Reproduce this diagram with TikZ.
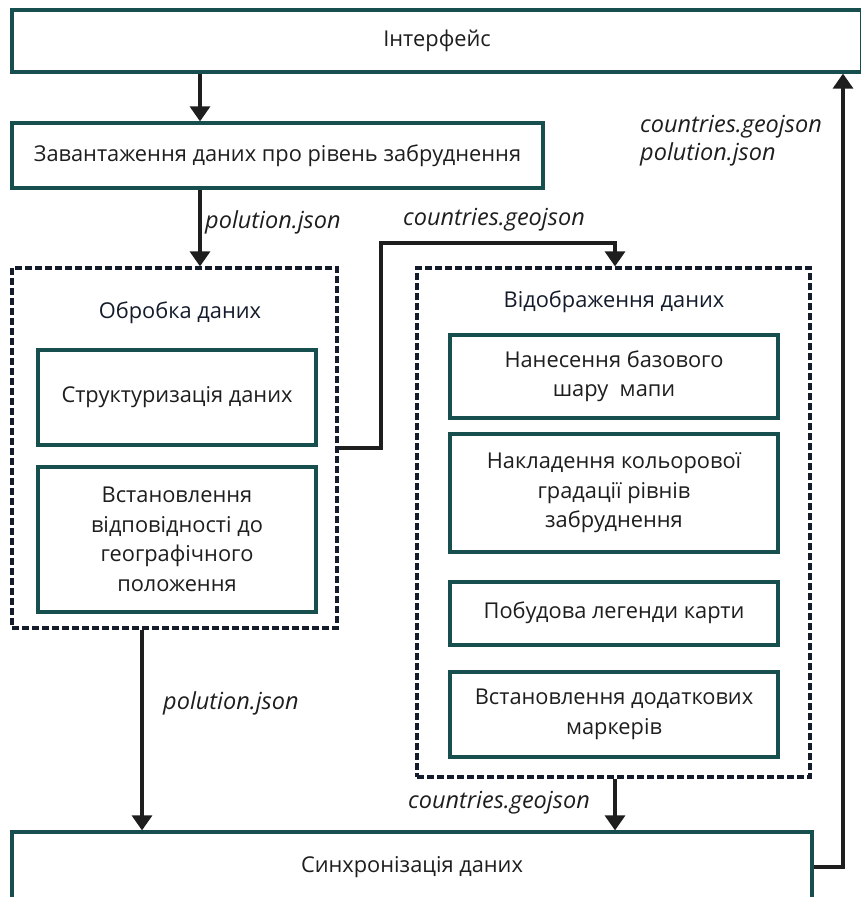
\documentclass[tikz,border=0pt]{standalone}
\usepackage{fontspec}
\setmainfont{Open Sans}
\usetikzlibrary{arrows.meta}
\definecolor{tealb}{HTML}{174F4F}
\definecolor{txt}{HTML}{1E1E1E}
\definecolor{dashc}{HTML}{141C2C}
\tikzset{
  box/.style={draw=tealb, line width=3.2pt, fill=white, text=txt, align=center, inner sep=0pt, font=\fontsize{21.8}{29.5}\selectfont},
  grp/.style={draw=dashc, line width=3.2pt, dash pattern=on 7pt off 3pt, inner sep=0pt},
  ttl/.style={text=dashc, font=\fontsize{21.8}{29.5}\selectfont},
  lbl/.style={text=txt, anchor=west, align=left, inner sep=0pt, font=\fontsize{23.5}{28}\selectfont\itshape},
  arr/.style={draw=txt, line width=3.2pt, -{Triangle[width=20pt,length=15pt]}},
}
\begin{document}
\begin{tikzpicture}[x=1pt,y=-1pt]
\useasboundingbox (0,0) rectangle (860,897);
\node[box, minimum width=850pt, minimum height=62pt] (iface) at (437,41) {Інтерфейс};
\node[box, minimum width=531pt, minimum height=65pt] (load) at (277.5,155.5) {Завантаження даних про рівень забруднення};
\node[grp, minimum width=325pt, minimum height=360pt] (d1) at (174.5,448) {};
\node[ttl] (t1) at (180,313) {Обробка даних};
\node[box, minimum width=278pt, minimum height=95pt] (s1) at (177,397.5) {Структуризація даних};
\node[box, minimum width=278pt, minimum height=145pt] (s2) at (177,539.5) {Встановлення\\відповідності до\\географічного\\положення};
\node[grp, minimum width=393pt, minimum height=509pt] (d2) at (613.5,522.5) {};
\node[ttl] (t2) at (614,302) {Відображення даних};
\node[box, minimum width=328pt, minimum height=83pt] (m1) at (614,376.5) {Нанесення базового\\шару\ \ мапи};
\node[box, minimum width=328pt, minimum height=118pt] (m2) at (614,493) {Накладення кольорової\\градації рівнів\\забруднення};
\node[box, minimum width=328pt, minimum height=63pt] (m3) at (614,613.5) {\raisebox{6pt}{Побудова легенди карти}};
\node[box, minimum width=328pt, minimum height=85pt] (m4) at (614,714.5) {Встановлення додаткових\\маркерів};
\node[box, minimum width=800pt, minimum height=70pt] (sync) at (412,867) {Синхронізація даних};

\draw[arr] (iface.south -| 200,0) -- (load.north -| 200,0);
\draw[arr] (load.south -| 200,0) -- (d1.north -| 200,0);
\draw[arr] (d1.east) -- (381,448) -- (381,243) -- (615,243) -- (d2.north -| 615,0);
\draw[arr] (d1.south -| 142,0) -- (sync.north -| 142,0);
\draw[arr] (d2.south -| 615,0) -- (sync.north -| 615,0);
\draw[arr] (sync.east) -- (843,867) -- (iface.south -| 843,0);

\node[lbl] (l1) at (205,222) {polution.json};
\node[lbl] (l2) at (403,220) {countries.geojson};
\node[lbl] (l3) at (640,141) {countries.geojson\\polution.json};
\node[lbl] (l4) at (163,703) {polution.json};
\node[lbl] (l5) at (408,803) {countries.geojson};
\end{tikzpicture}
\end{document}
